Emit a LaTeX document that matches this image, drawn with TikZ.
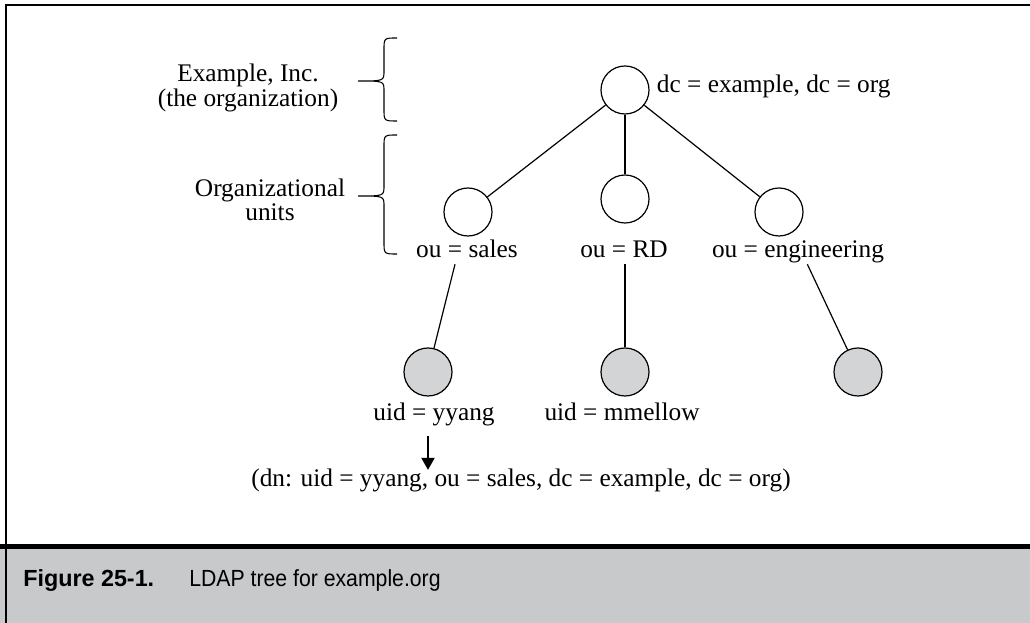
\documentclass[tikz,border=0pt]{standalone}
\usepackage{fontspec}
\setmainfont{Liberation Serif}
\setsansfont{Liberation Sans}
\newfontfamily\titlefont[FakeStretch=0.91]{Liberation Sans}
\usepackage{tikz}
\usetikzlibrary{arrows.meta, positioning}
\definecolor{capgray}{RGB}{200,201,203}
\definecolor{leafgray}{RGB}{211,212,214}
\tikzstyle{entry}   = [circle, draw=black, line width=0.9pt, minimum size=36pt, inner sep=0pt, fill=white]
\tikzstyle{leaf}    = [entry, fill=leafgray]
\tikzstyle{attr}    = [inner sep=2pt, text depth=0.25em, font=\fontsize{19}{16.5}\selectfont]
\tikzstyle{note}    = [inner sep=2pt, align=center, font=\fontsize{19}{16.5}\selectfont]
\tikzstyle{caption} = [inner sep=0pt, anchor=base west, font=\titlefont\fontsize{17.5}{20}\selectfont]
\tikzstyle{branch}  = [line width=0.9pt]
\tikzstyle{brace}   = [line width=0.8pt]
\tikzstyle{arrow}   = [line width=0.9pt, -{Triangle[length=9pt, width=10pt]}]

\begin{document}
\begin{tikzpicture}[x=0.75pt, y=0.75pt]
    \useasboundingbox (0,0) rectangle (1030,623);
    % frame and caption band
    \fill [capgray] (0,0) rectangle (1030,76.5);
    \draw [line width=3.5pt] (0,76.5) -- (1030,76.5);
    \draw [line width=2pt] (6,0) -- (6,618) -- (1030,618);
    \node (fig)   [caption, font=\sffamily\bfseries\fontsize{17.5}{20}\selectfont] at (23,36) {Figure 25-1.};
    \node (title) [caption] at (189,36) {LDAP tree for example.org};

    % entries
    \node (root)   [entry] at (625,533) {};
    \node (sales)  [entry] at (468,411) {};
    \node (rd)     [entry] at (625,424) {};
    \node (eng)    [entry] at (779,411) {};
    \node (lsales) [leaf]  at (428,251) {};
    \node (lrd)    [leaf]  at (625,251) {};
    \node (leng)   [leaf]  at (858,251) {};

    \node (dc)    [attr, anchor=base west] at (654,530) {dc = example, dc = org};
    \node (ousales) [attr, anchor=base] at (467,365) {ou = sales};
    \node (ourd)  [attr, anchor=base] at (624,365) {ou = RD};
    \node (oueng) [attr, anchor=base] at (798,365) {ou = engineering};
    \node (uidy)  [attr, anchor=base] at (434,202) {uid = yyang};
    \node (uidm)  [attr, anchor=base] at (622,202) {uid = mmellow};
    \node (dn)    [attr, anchor=base] at (521,136) {(dn: uid = yyang, ou = sales, dc = example, dc = org)};

    \node (org)   [note] at (248,535) {Example, Inc.\\(the organization)};
    \node (units) [note] at (270,423) {Organizational\\units};

    % braces
    \draw [brace] (397,585) .. controls (384,585) .. (384,573) -- (384,552)
        .. controls (384,542) .. (358,542) .. controls (384,542) .. (384,532)
        -- (384,514) .. controls (384,502) .. (397,502);
    \draw [brace] (397,488) .. controls (384,488) .. (384,476) -- (384,437)
        .. controls (384,427) .. (358,427) .. controls (384,427) .. (384,417)
        -- (384,381) .. controls (384,369) .. (397,369);

    \draw [branch] (root) -- (sales);
    \draw [branch] (root) -- (rd);
    \draw [branch] (root) -- (eng);
    \draw [branch] ([xshift=-9pt]ousales.south) -- (lsales);
    \draw [branch] (ourd.south -| lrd) -- (lrd);
    \draw [branch] ([xshift=7pt]oueng.south) -- (leng);
    \draw [arrow]  ([yshift=-6.5pt]uidy.south -| lsales) -- ([yshift=-2.5pt]dn.north -| lsales);
\end{tikzpicture}
\end{document}
